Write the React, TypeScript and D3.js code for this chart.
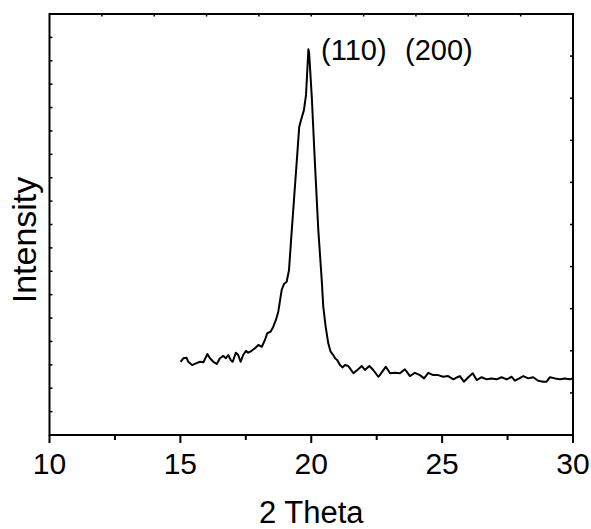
import React from "react";
import * as d3 from "d3";

// 2θ (degrees)
const twoTheta = [
  15.01, 15.11, 15.24, 15.30, 15.45, 15.62, 15.75, 15.88, 16.03, 16.13,
  16.26, 16.39, 16.51, 16.64, 16.74, 16.83, 16.92, 17.00, 17.12, 17.21,
  17.30, 17.40, 17.51, 17.59, 17.72, 17.85, 17.98, 18.11, 18.23, 18.32,
  18.45, 18.55, 18.65, 18.74, 18.81, 18.87, 18.96, 19.06, 19.15, 19.23,
  19.34, 19.45, 19.54, 19.61, 19.72, 19.80, 19.89, 19.92, 20.02, 20.14,
  20.27, 20.40, 20.46, 20.55, 20.65, 20.74, 20.84, 20.91, 20.99, 21.10,
  21.20, 21.29, 21.41, 21.48, 21.61, 21.76, 21.93, 22.05, 22.22, 22.37,
  22.56, 22.62, 22.85, 23.01, 23.20, 23.39, 23.58, 23.77, 23.96, 24.15,
  24.31, 24.47, 24.66, 24.85, 25.04, 25.23, 25.43, 25.58, 25.68, 25.83,
  26.00, 26.17, 26.32, 26.51, 26.70, 26.89, 27.08, 27.27, 27.47, 27.66,
  27.78, 27.95, 28.10, 28.29, 28.48, 28.67, 28.86, 28.99, 29.12, 29.31,
  29.50, 29.69, 29.88, 29.99,
];
// Intensity (a.u.)
const intensity = [
  313, 328, 330, 313, 299, 307, 313, 311, 346, 328,
  313, 304, 328, 338, 328, 342, 321, 313, 352, 342,
  313, 342, 360, 352, 360, 371, 385, 377, 406, 435,
  442, 463, 492, 527, 577, 620, 646, 655, 705, 834,
  1005, 1176, 1317, 1347, 1389, 1454, 1649, 1632, 1446, 1163,
  876, 663, 548, 463, 392, 356, 342, 328, 321, 299,
  289, 299, 295, 285, 264, 278, 295, 278, 295, 278,
  249, 256, 292, 264, 266, 264, 281, 252, 266, 256,
  242, 266, 256, 256, 249, 252, 238, 247, 252, 228,
  247, 264, 235, 247, 238, 242, 238, 247, 238, 249,
  232, 242, 252, 242, 247, 232, 228, 228, 247, 242,
  238, 242, 238, 242,
];

const xTickLabels = [10, 15, 20, 25, 30];
const xMinorTicks = [12.5, 17.5, 22.5, 27.5];
const annotations = ["(110)", "(200)"];
const xTitle = "2 Theta";
const yTitle = "Intensity";

const W = 591;
const H = 529;
const M = { left: 49.5, right: 573, top: 14, bottom: 435 };
const FONT = "'Liberation Sans', Arial, Helvetica, sans-serif";

export default function App() {
  const x = d3.scaleLinear().domain([10, 30]).range([M.left, M.right]);
  const y = d3.scaleLinear().domain([0, 1800]).range([M.bottom, M.top]);
  const data = twoTheta.map((t, i) => [t, intensity[i]] as [number, number]);
  const line = d3
    .line<[number, number]>()
    .x((d) => x(d[0]))
    .y((d) => y(d[1]))
    .curve(d3.curveLinear);

  const leftTicks = d3.range(100, 1800, 100);
  const rightTicks = d3.range(180, 1800, 180);
  const topTicks = d3.range(12, 30, 2);

  return (
    <svg
      width={W}
      height={H}
      style={{ position: "absolute", left: 0, top: 0, background: "#fff" }}
      fontFamily={FONT}
    >
      <rect x={0} y={0} width={W} height={H} fill="#fff" />

      {/* data line */}
      <path d={line(data) || ""} fill="none" stroke="#000" strokeWidth={2} strokeLinejoin="round" />

      {/* frame */}
      <rect
        x={M.left}
        y={M.top}
        width={M.right - M.left}
        height={M.bottom - M.top}
        fill="none"
        stroke="#000"
        strokeWidth={2}
      />

      {/* bottom ticks (outward) */}
      {xTickLabels.map((v) => (
        <line key={"bt" + v} x1={x(v)} x2={x(v)} y1={M.bottom} y2={M.bottom + 8} stroke="#000" strokeWidth={2} />
      ))}
      {xMinorTicks.map((v) => (
        <line key={"bm" + v} x1={x(v)} x2={x(v)} y1={M.bottom} y2={M.bottom + 5} stroke="#000" strokeWidth={2} />
      ))}
      {/* top ticks (inward) */}
      {topTicks.map((v) => (
        <line key={"tt" + v} x1={x(v)} x2={x(v)} y1={M.top} y2={M.top + 2.5} stroke="#000" strokeWidth={1.5} />
      ))}
      {/* left ticks (inward) */}
      {leftTicks.map((v) => (
        <line key={"lt" + v} x1={M.left} x2={M.left + 3} y1={y(v)} y2={y(v)} stroke="#000" strokeWidth={1.5} />
      ))}
      {/* right ticks (inward) */}
      {rightTicks.map((v) => (
        <line key={"rt" + v} x1={M.right} x2={M.right - 3} y1={y(v)} y2={y(v)} stroke="#000" strokeWidth={1.5} />
      ))}

      {/* tick labels */}
      {xTickLabels.map((v) => (
        <text key={"tl" + v} x={x(v)} y={474} fontSize={30} textAnchor="middle" fill="#000">
          {v}
        </text>
      ))}

      {/* axis titles */}
      <text x={(M.left + M.right) / 2} y={523} fontSize={31} textAnchor="middle" fill="#000">
        {xTitle}
      </text>
      <text
        transform={`translate(36, 240) rotate(-90)`}
        fontSize={34}
        textAnchor="middle"
        fill="#000"
      >
        {yTitle}
      </text>

      {/* annotations */}
      <text y={60} fontSize={29} fill="#000">
        <tspan x={321}>{annotations[0]}</tspan>
        <tspan x={405}>{annotations[1]}</tspan>
      </text>
    </svg>
  );
}
